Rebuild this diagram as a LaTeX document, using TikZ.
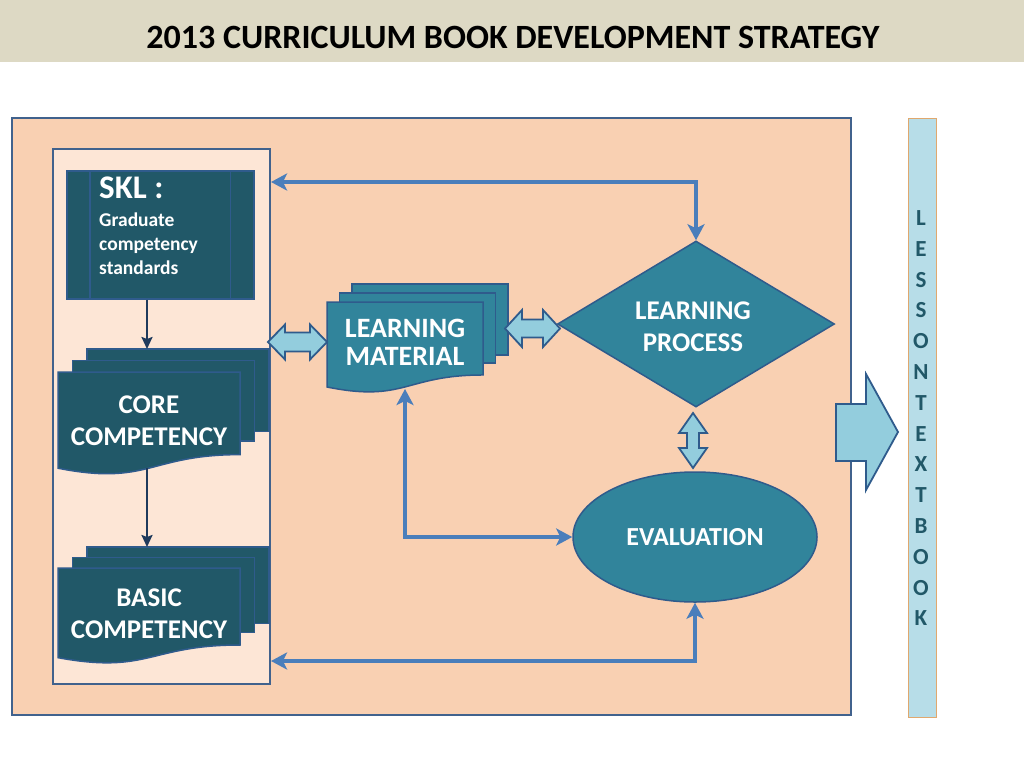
\documentclass[tikz,border=0pt]{standalone}
\usepackage{fontspec}
\setmainfont{Carlito}
\usetikzlibrary{shapes.geometric,arrows.meta,calc}

\definecolor{titlebg}{HTML}{DDD9C4}
\definecolor{peach}{HTML}{F9D0B2}
\definecolor{lightpeach}{HTML}{FDE6D6}
\definecolor{framecol}{HTML}{41628D}
\definecolor{darkteal}{HTML}{215868}
\definecolor{teal}{HTML}{31849B}
\definecolor{edgeblue}{HTML}{2F5B8C}
\definecolor{flowblue}{HTML}{4A7EBB}
\definecolor{navy}{HTML}{1F3A5C}
\definecolor{paleblue}{HTML}{93CDDD}
\definecolor{barblue}{HTML}{B7DDE8}
\definecolor{barline}{HTML}{E0A86E}

\tikzset{
  darkdoc/.style={fill=darkteal,draw=edgeblue,line width=1.5pt},
  tealdoc/.style={fill=teal,draw=edgeblue,line width=1.5pt},
  doctext/.style={text=white,font=\bfseries\fontsize{27}{32}\selectfont,align=center},
  flowboth/.style={draw=flowblue,line width=3.5pt,{Stealth[length=16pt,width=17pt,inset=4pt]}-{Stealth[length=16pt,width=17pt,inset=4pt]}},
  darkflow/.style={draw=navy,line width=2.2pt,-{Stealth[length=12pt,width=11pt,inset=2pt]}},
  blockarrow/.style={fill=paleblue,draw=edgeblue,line width=1.8pt,line join=miter},
  bartext/.style={text=darkteal,font=\bfseries\fontsize{23}{23}\selectfont,inner sep=0pt}
}

% x y w H dx dy style
\newcommand{\docstack}[7]{%
  \filldraw[#7] (#1+2*#5,#2-2*#6) rectangle (#1+2*#5+#3,#2+0.58*#4);
  \filldraw[#7] (#1+#5,#2-#6) rectangle (#1+#5+#3,#2+0.67*#4);
  \filldraw[#7] (#1,#2) -- (#1+#3,#2) -- (#1+#3,#2+0.802*#4)
    .. controls (#1+0.5*#3,#2+0.802*#4) and (#1+0.5*#3,#2+1.108*#4) .. (#1,#2+0.934*#4) -- cycle;
}

\begin{document}
\begin{tikzpicture}[x=1pt,y=-1pt]
\useasboundingbox (0,0) rectangle (1024,768);
\fill[white] (0,0) rectangle (1024,768);
\fill[titlebg] (0,0) rectangle (1024,62);
\node[font=\bfseries\fontsize{34}{34}\selectfont] (title) at (513,37) {2013 CURRICULUM BOOK DEVELOPMENT STRATEGY};

\filldraw[fill=peach,draw=framecol,line width=2.5pt] (12,118) rectangle (851,715);
\node[fill=lightpeach,draw=framecol,line width=2pt,anchor=north west,minimum width=217pt,minimum height=535pt,inner sep=0pt] (frame) at (52,148) {};

\node[darkdoc,anchor=north west,minimum width=187pt,minimum height=128pt,inner sep=0pt] (skl) at (66,170) {};
\draw[edgeblue,line width=1.5pt] ($(skl.north west)+(24,0)$) -- ($(skl.south west)+(24,0)$);
\draw[edgeblue,line width=1.5pt] ($(skl.north east)+(-24,0)$) -- ($(skl.south east)+(-24,0)$);
\node[anchor=north west,align=left,text=white,inner sep=0pt,font=\bfseries\fontsize{19.5}{24}\selectfont] (skltext) at (99,177)
  {{\fontsize{33}{33}\selectfont SKL :}\\[4pt]Graduate\\competency\\standards};

\docstack{58}{372}{182}{103}{14.5}{11.5}{darkdoc}
\node[doctext] (core) at (149,421) {CORE\\COMPETENCY};
\coordinate (coretop) at (147,349);
\coordinate (corebottom) at (147,468);

\docstack{58}{568}{182}{96}{14.5}{10.5}{darkdoc}
\node[doctext] (basic) at (149,614) {BASIC\\COMPETENCY};
\coordinate (basictop) at (147,547);

\docstack{327}{302}{156}{91}{12.5}{9}{tealdoc}
\node[doctext,font=\bfseries\fontsize{28}{28}\selectfont] (lm) at (405,342) {LEARNING\\MATERIAL};
\coordinate (lmbottom) at (405,389);

\node[diamond,tealdoc,minimum width=277pt,minimum height=166pt,inner sep=0pt] (lp) at (696,324) {};
\node[doctext,font=\bfseries\fontsize{27}{32}\selectfont] (lptext) at (693,327) {LEARNING\\PROCESS};
\node[ellipse,tealdoc,minimum width=244pt,minimum height=130pt,inner sep=0pt,doctext,font=\bfseries\fontsize{26}{26}\selectfont] (ev) at (695,537) {EVALUATION};

\draw[darkflow] (skl.south -| coretop) -- (coretop);
\draw[darkflow] (corebottom) -- (basictop);

\draw[flowboth] (lp.north) |- (frame.east |- 0,182);
\draw[flowboth] (ev.south) |- (frame.east |- 0,661);
\draw[flowboth] (lmbottom) |- (ev.west);

\filldraw[blockarrow] (268,342) -- (285,324.5) -- (285,332.5) -- (310,332.5) -- (310,324.5) -- (327,342)
  -- (310,359.5) -- (310,351.5) -- (285,351.5) -- (285,359.5) -- cycle;
\filldraw[blockarrow] (505,328.5) -- (522,310) -- (522,319.5) -- (543,319.5) -- (543,310) -- (560,328.5)
  -- (543,347) -- (543,337.5) -- (522,337.5) -- (522,347) -- cycle;
\filldraw[blockarrow] (693,413) -- (707,433) -- (699,433) -- (699,448) -- (707,448) -- (693,468)
  -- (679,448) -- (687,448) -- (687,433) -- (679,433) -- cycle;
\filldraw[blockarrow] (836,404) -- (866,404) -- (866,374) -- (898,432) -- (866,490) -- (866,461) -- (836,461) -- cycle;

\filldraw[fill=barblue,draw=barline,line width=1pt] (908,118) rectangle (936,717);
\foreach \ch [count=\i] in {L,E,S,S,O,N,T,E,X,T,B,O,O,K}
  \node[bartext] (bar\i) at (921,187.2+30.8*\i) {\ch};
\end{tikzpicture}
\end{document}
